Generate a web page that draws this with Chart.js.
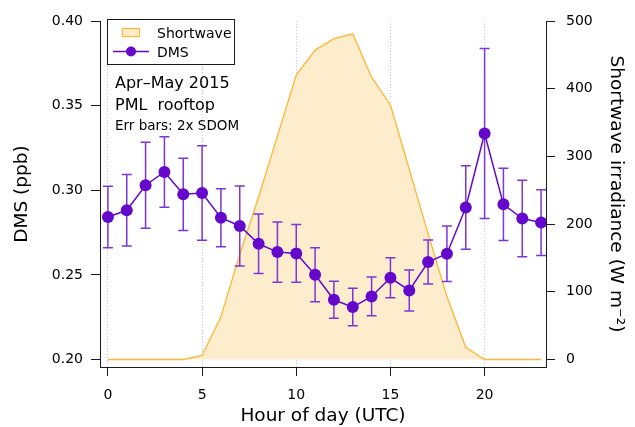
<!DOCTYPE html>
<html>
<head>
<meta charset="utf-8">
<script src="https://cdn.jsdelivr.net/npm/chart.js@4.4.1/dist/chart.umd.min.js"></script>
<style>
  html, body { margin: 0; padding: 0; background: #fff; }
</style>
</head>
<body>
<canvas id="grafico" width="635" height="427"></canvas>
<script>
// hourly means (UTC), Apr-May 2015
var horas = [0, 1, 2, 3, 4, 5, 6, 7, 8, 9, 10, 11, 12, 13, 14, 15, 16, 17, 18, 19, 20, 21, 22, 23];
var dms = [0.2842, 0.2882, 0.3030, 0.3108, 0.2976, 0.2984, 0.2838, 0.2789, 0.2684, 0.2635, 0.2627, 0.2501,
           0.2353, 0.2310, 0.2373, 0.2483, 0.2408, 0.2576, 0.2625, 0.2898, 0.3335, 0.2917, 0.2833, 0.2809];
// 2x SDOM
var dmsErro = [0.0182, 0.0211, 0.0254, 0.0208, 0.0213, 0.0279, 0.0171, 0.0236, 0.0176, 0.0178, 0.0171, 0.0159,
               0.0109, 0.0111, 0.0114, 0.0118, 0.0121, 0.0130, 0.0164, 0.0247, 0.0502, 0.0213, 0.0226, 0.0194];
var shortwave = [0, 0, 0, 0, 0, 6, 63, 155, 240, 330, 420, 457,
                 474, 481, 417, 376, 281, 186, 93, 18, 0, 0, 0, 0];

var ticksX = [0, 5, 10, 15, 20];
var ticksDms = [0.20, 0.25, 0.30, 0.35, 0.40];
var ticksSw = [0, 100, 200, 300, 400, 500];

var legendaTextos = ['Shortwave', 'DMS'];
var notas = ['Apr\u2013May 2015', 'PML  rooftop', 'Err bars: 2x SDOM'];

var fonte = '"DejaVu Sans", Verdana, sans-serif';
var corDms = '#6408cc';
var corBarra = '#7a36da';
var corSwLinha = '#ffb535';
var corSwFundo = '#feedcd';
var corEixo = '#1a1a1a';

function pontos(ys){
    var arr = [];
    for(var i = 0; i < horas.length; i++){
        arr.push({x: horas[i], y: ys[i]});
    }
    return arr;
}

function fixarTicks(lista){
    return function(escala){
        escala.ticks = lista.map(function(v){ return {value: v}; });
    };
}

var barrasErro = {
    id: 'barrasErro',
    beforeDatasetDraw: function(chart, args){
        if(args.meta.yAxisID !== 'y') return;
        var ctx = chart.ctx;
        var sx = chart.scales.x;
        var sy = chart.scales.y;
        ctx.save();
        ctx.strokeStyle = corBarra;
        ctx.lineWidth = 1.5;
        for(var i = 0; i < horas.length; i++){
            var x = sx.getPixelForValue(horas[i]);
            var yTopo = sy.getPixelForValue(dms[i] + dmsErro[i]);
            var yBase = sy.getPixelForValue(dms[i] - dmsErro[i]);
            ctx.beginPath();
            ctx.moveTo(x, yTopo); ctx.lineTo(x, yBase);
            ctx.moveTo(x - 5, yTopo); ctx.lineTo(x + 5, yTopo);
            ctx.moveTo(x - 5, yBase); ctx.lineTo(x + 5, yBase);
            ctx.stroke();
        }
        ctx.restore();
    }
};

var legendaCaixa = {
    id: 'legendaCaixa',
    afterDraw: function(chart){
        var ctx = chart.ctx;
        var a = chart.chartArea;
        var bx = a.left + 7, by = a.top - 2;
        ctx.save();
        ctx.fillStyle = '#fff';
        ctx.fillRect(bx, by, 127, 45);
        ctx.strokeStyle = corEixo;
        ctx.lineWidth = 1;
        ctx.strokeRect(bx + 0.5, by + 0.5, 127, 45);

        // shortwave swatch
        ctx.fillStyle = corSwFundo;
        ctx.fillRect(bx + 15, by + 9, 18, 9);
        ctx.strokeStyle = corSwLinha;
        ctx.lineWidth = 1.2;
        ctx.strokeRect(bx + 15.5, by + 9.5, 17, 8);

        // dms line + marker
        ctx.strokeStyle = corDms;
        ctx.lineWidth = 1.5;
        ctx.beginPath();
        ctx.moveTo(bx + 6, by + 32.5);
        ctx.lineTo(bx + 42, by + 32.5);
        ctx.stroke();
        ctx.fillStyle = corDms;
        ctx.beginPath();
        ctx.arc(bx + 24, by + 32.5, 5, 0, Math.PI * 2);
        ctx.fill();

        ctx.fillStyle = '#000';
        ctx.font = '14px ' + fonte;
        ctx.textBaseline = 'alphabetic';
        ctx.textAlign = 'left';
        ctx.fillText(legendaTextos[0], bx + 50, by + 18.5);
        ctx.fillText(legendaTextos[1], bx + 50, by + 38);

        // notes
        ctx.font = '16px ' + fonte;
        ctx.fillText(notas[0], a.left + 15, 87.5);
        ctx.fillText(notas[1], a.left + 15, 110);
        ctx.font = '13.5px ' + fonte;
        ctx.fillText(notas[2], a.left + 15, 130);
        ctx.restore();
    }
};

var ctx = document.getElementById('grafico').getContext('2d');
var grafico = new Chart(ctx, {
    type: 'line',
    data: {
        datasets: [{
            label: legendaTextos[0],
            data: pontos(shortwave),
            yAxisID: 'y2',
            order: 2,
            borderColor: corSwLinha,
            backgroundColor: corSwFundo,
            borderWidth: 1.3,
            pointRadius: 0,
            fill: 'origin',
            tension: 0
        }, {
            label: legendaTextos[1],
            data: pontos(dms),
            yAxisID: 'y',
            order: 1,
            borderColor: corDms,
            backgroundColor: corDms,
            borderWidth: 1.5,
            pointRadius: 6,
            pointBorderWidth: 0,
            pointBackgroundColor: corDms,
            fill: false,
            tension: 0
        }]
    },
    options: {
        responsive: false,
        animation: false,
        devicePixelRatio: 1,
        layout: { padding: { top: 21, left: 0, right: 0, bottom: 0 } },
        plugins: {
            legend: { display: false },
            tooltip: { enabled: false }
        },
        scales: {
            x: {
                type: 'linear',
                min: -0.42,
                max: 23.26,
                afterBuildTicks: fixarTicks(ticksX),
                afterFit: function(s){ s.height = 60; },
                grid: { color: '#c4c4f2', lineWidth: 1, drawTicks: true, tickLength: 9, tickColor: corEixo, tickWidth: 1 },
                border: { display: true, color: corEixo, width: 1, dash: [1, 2] },
                ticks: { color: '#000', font: { family: fonte, size: 14 }, padding: 11, maxRotation: 0, autoSkip: false },
                title: { display: true, text: 'Hour of day (UTC)', color: '#000', font: { family: fonte, size: 18.5 }, padding: { top: 0, bottom: 0 } }
            },
            y: {
                position: 'left',
                min: 0.1956,
                max: 0.40,
                afterBuildTicks: fixarTicks(ticksDms),
                afterFit: function(s){ s.width = 100; },
                grid: { drawOnChartArea: false, drawTicks: true, tickLength: 9, tickColor: corEixo, tickWidth: 1 },
                border: { display: true, color: corEixo, width: 1 },
                ticks: { color: '#000', font: { family: fonte, size: 14 }, padding: 8,
                         callback: function(v){ return v.toFixed(2); } },
                title: { display: true, text: 'DMS (ppb)', color: '#000', font: { family: fonte, size: 18.5 }, padding: { top: 11, bottom: 0 } }
            },
            y2: {
                position: 'right',
                min: -11.1,
                max: 500,
                afterBuildTicks: fixarTicks(ticksSw),
                afterFit: function(s){ s.width = 89; },
                grid: { drawOnChartArea: false, drawTicks: true, tickLength: 9, tickColor: corEixo, tickWidth: 1 },
                border: { display: true, color: corEixo, width: 1 },
                ticks: { color: '#000', font: { family: fonte, size: 14 }, padding: 11,
                         callback: function(v){ return String(v); } },
                title: { display: true, text: 'Shortwave irradiance (W m\u207B\u00B2)', color: '#000', font: { family: fonte, size: 18.5 }, padding: { top: 8, bottom: 0 } }
            }
        }
    },
    plugins: [barrasErro, legendaCaixa]
});
</script>
</body>
</html>
